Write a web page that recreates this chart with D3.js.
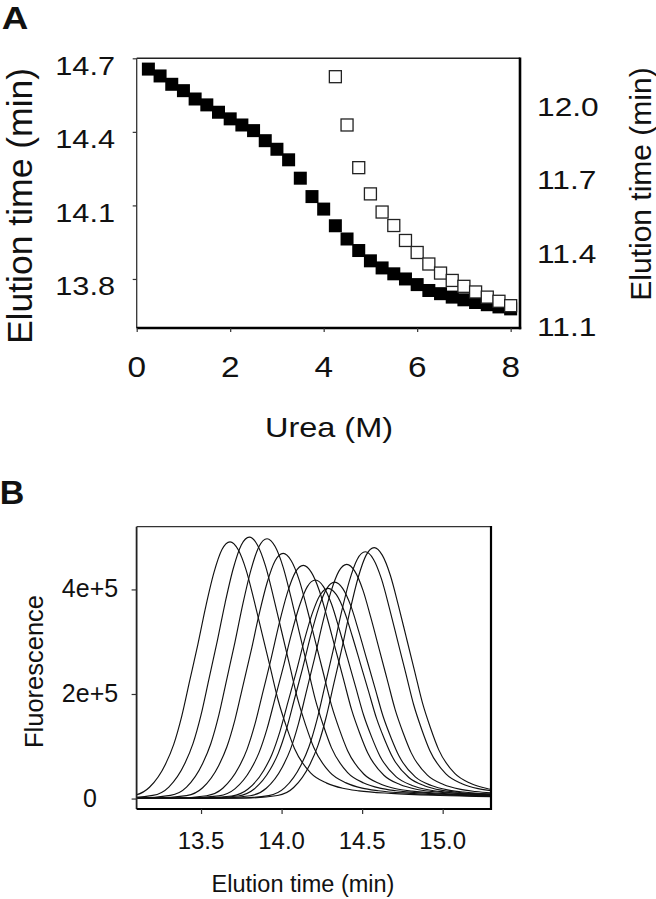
<!DOCTYPE html>
<html>
<head>
<meta charset="utf-8">
<script src="https://cdn.jsdelivr.net/npm/d3@7"></script>
<style>
  html, body { margin: 0; padding: 0; background: #fff; }
  svg { display: block; }
  text { font-family: "Liberation Sans", Arial, Helvetica, sans-serif; fill: #111; }
</style>
</head>
<body>
<svg id="chart" width="656" height="899"></svg>
<script>
// ---------------- DATA ----------------
// Panel A
const ureaM = [0.25,0.5,0.75,1.0,1.25,1.5,1.75,2.0,2.25,2.5,2.75,3.0,3.25,3.5,3.75,4.0,
               4.25,4.5,4.75,5.0,5.25,5.5,5.75,6.0,6.25,6.5,6.75,7.0,7.25,7.5,7.75,8.0];
const elutionFilled = [14.656,14.628,14.594,14.568,14.534,14.510,14.480,14.453,14.428,14.405,
                       14.364,14.329,14.286,14.211,14.136,14.085,14.017,13.963,13.916,13.874,
                       13.845,13.821,13.800,13.777,13.753,13.740,13.726,13.715,13.704,13.695,
                       13.686,13.678];
const ureaOpen = [4.25,4.5,4.75,5.0,5.25,5.5,5.75,6.0,6.25,6.5,6.75,7.0,7.25,7.5,7.75,8.0];
const elutionOpen = [12.125,11.928,11.754,11.647,11.573,11.518,11.457,11.408,11.361,11.324,
                     11.294,11.270,11.247,11.226,11.209,11.191];
const xTicksA = [0,2,4,6,8];
const yTicksLeft = [13.8,14.1,14.4,14.7];
const yTicksRight = [11.1,11.4,11.7,12.0];

// Panel B: chromatogram peaks (apex time, apex fluorescence)
const peakTimes   = [13.68,13.80,13.91,14.01,14.135,14.21,14.29,14.33,14.405,14.52,14.575];
const peakHeights = [491000,500000,497000,469000,446000,418000,402000,414000,448000,472000,480000];
// normalised peak profile (offset from apex in min, relative height)
const profileOffsets = [-1.6,-0.8,-0.6,-0.5,-0.4,-0.35,-0.3,-0.25,-0.2,-0.15,-0.1,-0.05,0,
                        0.05,0.1,0.15,0.2,0.25,0.3,0.35,0.4,0.5,0.6,0.7,0.8,1.0,1.3,1.8];
const profileValues  = [0,0.002,0.012,0.044,0.135,0.21,0.32,0.46,0.60,0.75,0.88,0.97,1,
                        0.97,0.89,0.77,0.64,0.51,0.38,0.28,0.195,0.10,0.06,0.04,0.03,0.02,0.012,0.006];
const xTicksB = [13.5,14.0,14.5,15.0];
const yTicksB = [0,200000,400000];
const yTickLabelsB = ["0","2e+5","4e+5"];

// ---------------- DRAWING ----------------
const svg = d3.select("#chart");

function label(txt, x, y, o = {}) {
  const t = svg.append("text")
    .attr("transform", `translate(${x},${y}) rotate(${o.rotate || 0}) scale(${o.sx || 1},1)`)
    .attr("text-anchor", o.anchor || "middle")
    .attr("dy", "0.36em")
    .style("font-size", (o.size || 20) + "px")
    .style("font-weight", o.weight || "normal")
    .text(txt);
  return t;
}

// ----- Panel A -----
const A = {l: 136.7, r: 520, t: 58.3, b: 328};
const xA = d3.scaleLinear().domain([0, 8.2]).range([A.l, A.r]);
const yL = d3.scaleLinear().domain([13.6, 14.7]).range([A.b, A.t]);
const yR = d3.scaleLinear().domain([11.1, 12.2]).range([A.b, A.t]);

const gA = svg.append("g");
// frame
gA.append("line").attr("x1", A.l).attr("x2", A.r).attr("y1", A.t).attr("y2", A.t).attr("stroke", "#222").attr("stroke-width", 1.5);
gA.append("line").attr("x1", A.l).attr("x2", A.l).attr("y1", A.t).attr("y2", A.b).attr("stroke", "#333").attr("stroke-width", 1.3);
gA.append("line").attr("x1", A.r).attr("x2", A.r).attr("y1", A.t - 0.8).attr("y2", A.b + 1.2).attr("stroke", "#000").attr("stroke-width", 2.6);
gA.append("line").attr("x1", A.l).attr("x2", A.r + 1.2).attr("y1", A.b).attr("y2", A.b).attr("stroke", "#000").attr("stroke-width", 2.6);

// ticks via axes
const axL = gA.append("g").attr("transform", `translate(${A.l},0)`)
  .call(d3.axisLeft(yL).tickValues(yTicksLeft).tickSize(4).tickFormat(""));
const axB = gA.append("g").attr("transform", `translate(0,${A.b})`)
  .call(d3.axisBottom(xA).tickValues(xTicksA).tickSize(4).tickFormat(""));
[axL, axB].forEach(a => { a.select(".domain").remove(); a.selectAll("line").attr("stroke", "#333").attr("stroke-width", 1.2); });

// tick labels
yTicksLeft.forEach(v => label(d3.format(".1f")(v), 115, yL(v) + 7, {anchor: "end", size: 26, sx: 1.18}));
yTicksRight.forEach(v => label(d3.format(".1f")(v), 537, yR(v) - 1, {anchor: "start", size: 26, sx: 1.22}));
xTicksA.forEach(v => label(String(v), xA(v), 367, {size: 29, sx: 1.15}));

label("Urea (M)", 329, 427, {size: 28, sx: 1.16});
label("Elution time (min)", 19, 206, {size: 35.5, rotate: -90});
label("Elution time (min)", 640, 184, {size: 30, rotate: -90});
label("A", 15, 17, {size: 32, weight: "bold", sx: 1.15});

// markers
const sF = 13, sO = 12;
gA.append("g").selectAll("rect").data(ureaM).join("rect")
  .attr("x", (d, i) => xA(d) - sF / 2).attr("y", (d, i) => yL(elutionFilled[i]) - sF / 2)
  .attr("width", sF).attr("height", sF).attr("fill", "#000");
gA.append("g").selectAll("rect").data(ureaOpen).join("rect")
  .attr("x", (d, i) => xA(d) - sO / 2).attr("y", (d, i) => yR(elutionOpen[i]) - sO / 2)
  .attr("width", sO).attr("height", sO).attr("fill", "#fff").attr("stroke", "#222").attr("stroke-width", 1.3);

// ----- Panel B -----
const B = {l: 136.6, r: 491, t: 526.7, b: 809};
const xB = d3.scaleLinear().domain([13.1, 15.3]).range([B.l, B.r]);
const yB = d3.scaleLinear().domain([-20000, 520000]).range([B.b, B.t]);
const gB = svg.append("g");

svg.append("defs").append("clipPath").attr("id", "clipB")
  .append("rect").attr("x", B.l).attr("y", B.t).attr("width", B.r - B.l).attr("height", B.b - B.t);

const line = d3.line().x(d => xB(d[0])).y(d => yB(d[1])).curve(d3.curveMonotoneX);
const traces = peakTimes.map((c, i) => profileOffsets.map((o, j) => [c + o, peakHeights[i] * profileValues[j]]));
gB.append("g").attr("clip-path", "url(#clipB)").selectAll("path").data(traces).join("path")
  .attr("d", line).attr("fill", "none").attr("stroke", "#111").attr("stroke-width", 1.15);

// frame
gB.append("line").attr("x1", B.l).attr("x2", B.r).attr("y1", B.t).attr("y2", B.t).attr("stroke", "#333").attr("stroke-width", 1.2);
gB.append("line").attr("x1", B.l).attr("x2", B.l).attr("y1", B.t).attr("y2", B.b).attr("stroke", "#222").attr("stroke-width", 1.8);
gB.append("line").attr("x1", B.r).attr("x2", B.r).attr("y1", B.t - 0.6).attr("y2", B.b + 1).attr("stroke", "#000").attr("stroke-width", 2.2);
gB.append("line").attr("x1", B.l).attr("x2", B.r + 1).attr("y1", B.b).attr("y2", B.b).attr("stroke", "#000").attr("stroke-width", 2.2);

const bxL = gB.append("g").attr("transform", `translate(${B.l},0)`)
  .call(d3.axisLeft(yB).tickValues(yTicksB).tickSize(5).tickFormat(""));
const bxB = gB.append("g").attr("transform", `translate(0,${B.b})`)
  .call(d3.axisBottom(xB).tickValues(xTicksB).tickSize(5).tickFormat(""));
[bxL, bxB].forEach(a => { a.select(".domain").remove(); a.selectAll("line").attr("stroke", "#333").attr("stroke-width", 1.2); });

yTicksB.forEach((v, i) => label(yTickLabelsB[i], 90, yB(v) - 1, {size: 25}));
xTicksB.forEach(v => label(d3.format(".1f")(v), xB(v), 840, {size: 24}));
label("Fluorescence", 34, 671.5, {size: 25.5, rotate: -90});
label("Elution time (min)", 303, 884, {size: 23.5});
label("B", 12, 492, {size: 34, weight: "bold"});
</script>
</body>
</html>
